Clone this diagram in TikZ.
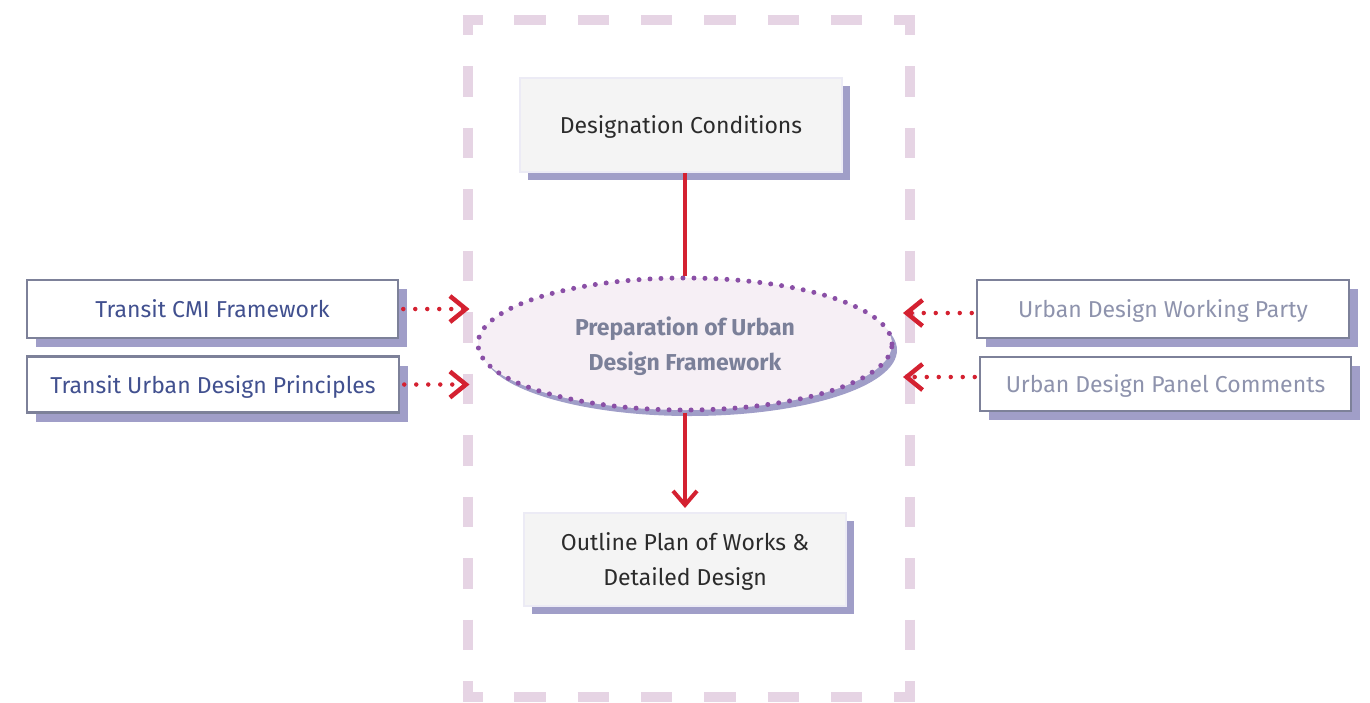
\documentclass[tikz,border=0pt]{standalone}
\usepackage{fontspec}
\setmainfont{Fira Sans}
\usetikzlibrary{arrows.meta,shapes.geometric}
\definecolor{dashc}{HTML}{E6D4E4}
\definecolor{boxfill}{HTML}{F4F4F4}
\definecolor{boxedge}{HTML}{ECEBF5}
\definecolor{shadowc}{HTML}{A09EC8}
\definecolor{redc}{HTML}{D42131}
\definecolor{ellfill}{HTML}{F6EFF5}
\definecolor{elldot}{HTML}{8A4FA6}
\definecolor{elltext}{HTML}{7B8099}
\definecolor{lefttext}{HTML}{41508F}
\definecolor{righttext}{HTML}{8E93AD}
\definecolor{sideedge}{HTML}{7D8199}
\definecolor{darktext}{HTML}{2B2B2B}
\begin{document}
\begin{tikzpicture}[x=1pt,y=-1pt,
  shadowed/.style={preaction={draw=none, fill=shadowc, transform canvas={shift={(#1)}}}},
  basefont/.style={font=\fontsize{23}{35}\selectfont},
  lightbox/.style={rectangle, basefont, fill=boxfill, draw=boxedge, line width=2pt, inner sep=0pt,
    text=darktext, align=center, text depth=0pt, minimum width=322pt, minimum height=94pt, shadowed={8pt,-8pt}},
  sidebox/.style={rectangle, basefont, fill=white, draw=sideedge, line width=2.5pt, inner sep=0pt,
    align=center, text depth=0pt, minimum width=371pt, minimum height=56pt, shadowed={9pt,-9pt}},
  central/.style={ellipse, font=\fontsize{23}{35}\selectfont\bfseries, fill=ellfill, draw=elldot, line width=5pt,
    line cap=round, dash pattern=on 0pt off 11pt, inner sep=0pt, text=elltext, align=center, text depth=0pt,
    minimum width=414pt, minimum height=132pt, shadowed={5pt,-6pt}},
  frameside/.style={draw=dashc, line width=10pt},
  solidlink/.style={draw=redc, line width=4pt},
  solidarrow/.style={solidlink, -{Straight Barb[length=14pt, width=24pt]}},
  dottedarrow/.style={draw=redc, line width=4.5pt, line cap=round, dash pattern=on 0pt off 12pt,
    -{Straight Barb[length=16pt, width=26pt, line cap=butt]}}
]
\useasboundingbox (0,0) rectangle (1370,702);

% dashed frame
\draw[frameside, dash pattern=on 31.5pt off 31.8pt, dash phase=11.5pt] (462.5,20) -- (915,20);
\draw[frameside, dash pattern=on 31.5pt off 31.8pt, dash phase=11.5pt] (462.5,697) -- (915,697);
\draw[frameside, dash pattern=on 30.5pt off 31pt, dash phase=10.5pt] (467.5,15) -- (467.5,702);
\draw[frameside, dash pattern=on 30.5pt off 31pt, dash phase=10.5pt] (910,15) -- (910,702);

% nodes
\node[lightbox] (top) at (681,125) {Designation Conditions};
\node[lightbox, minimum height=93pt] (bot) at (685,559.5) {Outline Plan of Works \&\\Detailed Design};
\node[central] (ell) at (685,344) {Preparation of Urban\\Design Framework};
\node[sidebox, text=lefttext, minimum height=58pt] (cmi) at (212.5,309) {Transit CMI Framework};
\node[sidebox, text=lefttext, minimum width=372pt] (tudp) at (213,384.5) {Transit Urban Design Principles};
\node[sidebox, text=righttext, minimum width=372pt, minimum height=58pt] (udwp) at (1163,309) {Urban Design Working Party};
\node[sidebox, text=righttext, minimum height=54pt] (udpc) at (1165.5,384) {Urban Design Panel Comments};

% connectors
\draw[solidlink] (ell.north |- top.south) -- (ell.north);
\draw[solidarrow, shorten >=4pt] (ell.south) -- (bot.north);
\draw[dottedarrow, shorten <=4pt, shorten >=6pt] (cmi.east) -- (ell.west |- cmi.east);
\draw[dottedarrow, shorten <=4pt, shorten >=6pt] (tudp.east) -- (ell.west |- tudp.east);
\draw[dottedarrow, shorten <=4pt, shorten >=8.5pt] ([yshift=-4pt]udwp.west) -- ([yshift=-4pt]ell.east |- udwp.west);
\draw[dottedarrow, shorten <=4pt, shorten >=8.5pt] ([yshift=7pt]udpc.west) -- ([yshift=7pt]ell.east |- udpc.west);
\end{tikzpicture}
\end{document}
